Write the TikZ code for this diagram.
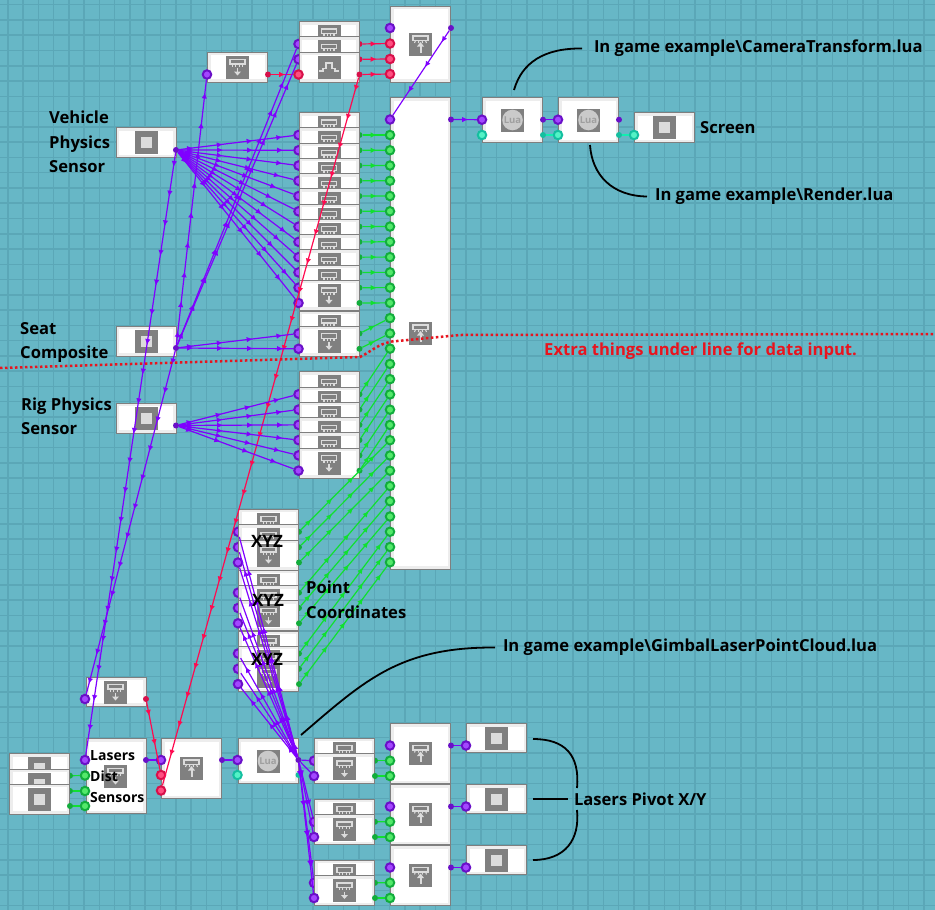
\documentclass[tikz,border=0pt]{standalone}
\usepackage{fontspec}
\setmainfont{Open Sans}
\usetikzlibrary{arrows.meta,decorations.markings}
\definecolor{bgteal}{HTML}{67B7C6}
\definecolor{gridteal}{HTML}{5BA7B7}
\definecolor{chipline}{HTML}{7F7F7F}
\definecolor{chipedge}{HTML}{EDEDED}
\definecolor{icongrey}{HTML}{808080}
\definecolor{iconlight}{HTML}{DCDCDC}
\definecolor{vio}{HTML}{7F00FF}
\definecolor{viodark}{HTML}{6A10C8}
\definecolor{gre}{HTML}{10E030}
\definecolor{gredark}{HTML}{12AD3C}
\definecolor{rd}{HTML}{FF0A50}
\definecolor{rddark}{HTML}{D8104A}
\definecolor{tea}{HTML}{10EFB0}
\definecolor{teadark}{HTML}{14BFA0}
\definecolor{noted}{HTML}{E8141E}
\newcommand{\rowchip}[6]{%
  \node[chipbox,minimum height=30pt] (#1) at (#2,#3) {};
  \pic (#1) at (#2+30,#3+15) {#4};
  \node[bigport=#5] (#1in) at (#2-0.5,#3+22.5) {};
  \node[smallport=#6] (#1out) at (#2+60.5,#3+22.5) {};
}
\tikzset{
  chipbox/.style={draw=chipline,line width=1pt,fill=chipedge,anchor=north west,
    inner sep=0pt,outer sep=0pt,minimum width=60pt,
    path picture={\fill[white] ([shift={(3,3)}]path picture bounding box.north west)
      rectangle ([shift={(-3,-3)}]path picture bounding box.south east);}},
  bigport/.style={circle,inner sep=0pt,minimum size=8.5pt,line width=2pt,draw=#1dark,fill=#1!72!white},
  smallport/.style={circle,inner sep=0pt,minimum size=6pt,fill=#1dark},
  wire/.style={draw=#1,line width=1.2pt,postaction={decorate,decoration={markings,
    mark=between positions 14pt and -6pt step 30pt with {\arrow[color=#1]{Latex[length=6pt,width=5.5pt]}}}}},
  pinline/.style={draw=iconlight,line width=1.1pt},
  sqicon/.pic={
    \fill[icongrey] (-11.5,-11.5) rectangle (11.5,11.5);
    \fill[iconlight] (-5.5,-5.5) rectangle (5.5,5.5);
  },
  readicon/.pic={
    \fill[icongrey] (-11.5,-11.5) rectangle (11.5,11.5);
    \draw[pinline] (-7.5,-7.5) rectangle (7.5,-3);
    \foreach \p in {-5,-1.7,1.7,5} \draw[pinline] (\p,-3) -- (\p,-0.5);
    \draw[draw=iconlight,line width=1.8pt] (0,1) -- (0,5);
    \fill[iconlight] (-3.5,4.5) -- (3.5,4.5) -- (0,8.5) -- cycle;
  },
  writeicon/.pic={
    \fill[icongrey] (-11.5,-11.5) rectangle (11.5,11.5);
    \draw[pinline] (-7.5,-8) rectangle (7.5,-3.5);
    \foreach \p in {-5,-1.7,1.7,5} \draw[pinline] (\p,-3.5) -- (\p*1.2,-1);
    \fill[iconlight] (-3.5,2.5) -- (3.5,2.5) -- (0,-2) -- cycle;
    \draw[draw=iconlight,line width=2pt] (0,2) -- (0,8.5);
  },
  luaicon/.pic={
    \fill[icongrey] (-11.5,-11.5) rectangle (11.5,11.5);
    \fill[iconlight!92!black] (0,0) circle (10.3);
    \node[text=gray!75,inner sep=0pt,font=\bfseries\fontsize{9.5}{10}\selectfont] (-label) at (0,0) {Lua};
  },
  pulseicon/.pic={
    \fill[icongrey] (-11.5,-11.5) rectangle (11.5,11.5);
    \draw[draw=iconlight,line width=1.8pt] (-10,4) -- (-6,4) -- (-6,1.5) -- (-3,1.5) -- (-3,-4)
      -- (3,-4) -- (3,1.5) -- (6,1.5) -- (6,4) -- (10,4);
  },
  lbl/.style={inner sep=0pt,align=left,anchor=west,font=\bfseries\fontsize{16.6}{24.5}\selectfont},
  note/.style={draw=black,line width=1.8pt},
}
\begin{document}
\begin{tikzpicture}[x=1pt,y=-1pt]
\useasboundingbox (0,0) rectangle (935,910);
\fill[bgteal] (0,0) rectangle (935,910);
\foreach \i in {0,...,60} \draw[gridteal,line width=1.5pt] ({7.8+15.27*\i},0) -- ++(0,910);
\foreach \i in {0,...,59} \draw[gridteal,line width=1.5pt] (0,{4.7+15.27*\i}) -- ++(935,0);
% top memory and big memory
\node[chipbox,minimum height=76pt] (memtop) at (390.5,6) {};
\pic at (420.5,44) {writeicon};
\node[bigport=vio] (memtopin) at (390,28) {};
\foreach \i/\y in {1/43.5,2/59,3/74} \node[bigport=rd] (memred\i) at (390,\y) {};
\node[smallport=vio] (memtopout) at (451,28) {};
\node[chipbox,minimum height=471.5pt] (membig) at (390.5,97.5) {};
\pic at (420.5,333) {writeicon};
\node[bigport=vio] (membigin) at (390,119.5) {};
\node[smallport=vio] (membigout) at (451,119.5) {};
\foreach \i [evaluate=\i as \y using 135+15.26*\i-15.26] in {1,...,29}
  \node[bigport=gre] (big\i) at (390,\y) {};
% lua chain
\node[chipbox,minimum height=45pt] (luacam) at (482.5,97.5) {};
\pic (luacam) at (512.5,120) {luaicon};
\node[bigport=vio] (luacamin) at (482,119.7) {};
\node[bigport=tea] (luacamtea) at (482,135) {};
\node[smallport=vio] (luacamout) at (543,119.7) {};
\node[smallport=tea] (luacamteo) at (543,135) {};
\node[chipbox,minimum height=45pt] (luaren) at (558.5,97.5) {};
\pic (luaren) at (588.5,120) {luaicon};
\node[bigport=vio] (luarenin) at (558,119.7) {};
\node[bigport=tea] (luarentea) at (558,135) {};
\node[smallport=vio] (luarenout) at (619,119.7) {};
\node[smallport=tea] (luarenteo) at (619,135) {};
\node[chipbox,minimum height=30pt] (screen) at (634.5,112.5) {};
\pic at (664.5,127.5) {sqicon};
\node[bigport=tea] (screenin) at (634,135) {};
% sensors
\node[chipbox,minimum height=30pt] (vehsensor) at (116,127.5) {};
\pic at (146,142.5) {sqicon};
\node[smallport=vio] (vehout) at (176,150) {};
\node[chipbox,minimum height=30pt] (seatsensor) at (116,326) {};
\pic at (146,341) {sqicon};
\node[smallport=vio] (seatout) at (176,348) {};
\node[chipbox,minimum height=30pt] (rigsensor) at (116,403) {};
\pic at (146,418) {sqicon};
\node[smallport=vio] (rigout) at (176,425.5) {};
\node[chipbox,minimum height=30pt] (gate) at (207.5,52) {};
\pic at (237.5,67) {readicon};
\node[bigport=vio] (gatein) at (207,74.5) {};
\node[smallport=rd] (gateout) at (268,74.5) {};
% stacks of read chips
\rowchip{tapa}{299}{21.5}{readicon}{vio}{rd}
\rowchip{tapb}{299}{36.8}{readicon}{vio}{rd}
\rowchip{pulse}{299}{52}{pulseicon}{rd}{rd}
\foreach \i [evaluate=\i as \t using 112.5+15.27*\i-15.27] in {1,...,12}
  {\rowchip{veh\i}{299}{\t}{readicon}{vio}{gre}}
\foreach \i/\t in {1/311,2/326.3} {\rowchip{seat\i}{299}{\t}{readicon}{vio}{gre}}
\foreach \i [evaluate=\i as \t using 371.8+15.27*\i-15.27] in {1,...,6}
  {\rowchip{rig\i}{299}{\t}{readicon}{vio}{gre}}
\foreach \i/\t in {1/509.3,2/524.7,3/540,4/570.2,5/585.5,6/600.8,7/631,8/646.3,9/661.6}
  {\rowchip{xyz\i}{238.5}{\t}{readicon}{vio}{gre}}
% lasers corner
\node[chipbox,minimum height=29pt] (lasread) at (86,677) {};
\pic at (115.5,692) {readicon};
\node[bigport=vio] (lasreadin) at (85,699) {};
\node[smallport=rd] (lasreadout) at (146,699) {};
\foreach \i/\t in {1/753.7,2/769,3/784}{
  \node[chipbox,minimum height=30pt] (dist\i) at (9.5,\t) {};
  \pic at (39.5,\t+15) {sqicon};
  \node[smallport=gre] (dist\i out) at (70,\t+22) {};
}
\node[chipbox,minimum height=75pt] (lasers) at (86,738.5) {};
\pic at (115.5,776) {readicon};
\node[bigport=vio] (lasersin) at (85,760) {};
\foreach \i/\y in {1/775.5,2/791,3/806} \node[bigport=gre] (lasersgre\i) at (85,\y) {};
\node[smallport=vio] (lasersout) at (146,760) {};
\node[chipbox,minimum height=60pt] (pack) at (161.5,738.5) {};
\pic at (191.5,768) {writeicon};
\node[bigport=vio] (packin) at (161,760) {};
\node[bigport=rd] (packreda) at (161,775) {};
\node[bigport=rd] (packredb) at (161,790.5) {};
\node[smallport=vio] (packout) at (222,760) {};
\node[chipbox,minimum height=45pt] (luagimbal) at (238,738.5) {};
\pic (luagimbal) at (268,761) {luaicon};
\node[bigport=vio] (luagimbalin) at (237.5,760) {};
\node[bigport=tea] (luagimbaltea) at (237.5,775) {};
\node[smallport=vio] (luagimbalout) at (298.5,760) {};
\node[smallport=tea] (luagimbalteo) at (298.5,775) {};
% pivots
\foreach \i/\t in {1/738.2,2/753.5,3/799.3,4/814.5,5/860.3,6/875.5}
  {\rowchip{piv\i}{314.5}{\t}{readicon}{vio}{gre}}
\foreach \n/\t in {a/723.5,b/784.5,c/845.5}{
  \node[chipbox,minimum height=60pt] (pack\n) at (390.5,\t) {};
  \pic at (420.5,\t+30) {writeicon};
  \node[bigport=vio] (pack\n in) at (390,\t+22) {};
  \node[bigport=gre] (pack\n g) at (390,\t+37.2) {};
  \node[bigport=gre] (pack\n h) at (390,\t+52.5) {};
  \node[smallport=vio] (pack\n out) at (451,\t+22) {};
  \node[chipbox,minimum height=29pt] (pivot\n) at (466.5,\t) {};
  \pic at (496.5,\t+14.5) {sqicon};
  \node[bigport=vio] (pivot\n in) at (466,\t+22) {};
  \draw[wire=vio] (pack\n out) -- (pivot\n in);
}
% wires
\draw[wire=vio] (memtopout) -- (membigin);
\draw[wire=vio] (membigout) -- (luacamin);
\draw[wire=vio] (luacamout) -- (luarenin);
\draw[wire=tea] (luacamteo) -- (luarentea);
\draw[wire=tea] (luarenteo) -- (screenin);
\draw[wire=rd] (gateout) -- (pulsein);
\draw[wire=rd] (tapaout) -- (memred1);
\draw[wire=rd] (tapbout) -- (memred2);
\draw[wire=rd] (pulseout) -- (memred3);
\draw[wire=rd] (pulseout) -- (packredb);
\draw[wire=rd] (lasreadout) -- (packreda);
\draw[wire=vio] (lasersout) -- (packin);
\draw[wire=vio] (packout) -- (luagimbalin);
\draw[wire=vio] (seatout) -- (gatein);
\draw[wire=vio] (seatout) -- (lasreadin);
\draw[wire=vio] (seatout) -- (tapain);
\draw[wire=vio] (seatout) -- (tapbin);
\draw[wire=vio] (vehout) -- (lasersin);
\foreach \i in {1,...,12} {
  \draw[wire=vio] (vehout) -- (veh\i in);
  \draw[wire=gre] (veh\i out) -- (big\i);
}
\foreach \i/\j in {1/13,2/14} {
  \draw[wire=vio] (seatout) -- (seat\i in);
  \draw[wire=gre] (seat\i out) -- (big\j);
}
\foreach \i/\j in {1/15,2/16,3/17,4/18,5/19,6/20} {
  \draw[wire=vio] (rigout) -- (rig\i in);
  \draw[wire=gre] (rig\i out) -- (big\j);
}
\foreach \i/\j in {1/21,2/22,3/23,4/24,5/25,6/26,7/27,8/28,9/29} {
  \draw[wire=vio] (luagimbalout) -- (xyz\i in);
  \draw[wire=gre] (xyz\i out) -- (big\j);
}
\foreach \i in {1,...,6} \draw[wire=vio] (luagimbalout) -- (piv\i in);
\foreach \i/\p in {1/packag,2/packah,3/packbg,4/packbh,5/packcg,6/packch}
  \draw[wire=gre] (piv\i out) -- (\p);
\foreach \i/\p in {1/lasersgre1,2/lasersgre2,3/lasersgre3}
  \draw[wire=gre] (dist\i out) -- (\p);
% data line
\draw[noted,line width=2.5pt,dash pattern=on 2.5pt off 2.5pt]
  (0,368) -- (360,357) .. controls (372,351) and (378,344) .. (392,341.5) -- (460,335) -- (935,334);
% labels
\node[lbl] (vehlabel) at (49,142) {Vehicle\\Physics\\Sensor};
\node[lbl] (seatlabel) at (20,342.5) {Seat\\Composite};
\node[lbl] (riglabel) at (21,416.5) {Rig Physics\\Sensor};
\node[lbl] (screenlabel) at (700,128) {Screen};
\node[lbl] (pointlabel) at (306,600) {Point\\Coordinates};
\node[lbl,font=\bfseries\fontsize{14}{21}\selectfont] (laserslabel) at (90,777) {Lasers\\Dist\\Sensors};
\node[lbl,text=noted] (extralabel) at (544,351.5) {Extra things under line for data input.};
\foreach \n/\x/\y in {a/267/541,b/268/600,c/267/659}
  \node[inner sep=0pt,font=\bfseries\fontsize{17}{20}\selectfont] (xyztext\n) at (\x,\y) {XYZ};
\node[lbl,outer sep=12pt] (camlabel) at (582,48.5) {In game example\textbackslash CameraTransform.lua};
\node[lbl,outer sep=8pt] (renlabel) at (647,196.5) {In game example\textbackslash Render.lua};
\node[lbl,outer sep=8pt] (gimballabel) at (495,647.5) {In game example\textbackslash GimbalLaserPointCloud.lua};
\node[lbl,outer sep=6pt] (pivotlabel) at (568,799) {Lasers Pivot X/Y};
\coordinate (camtail) at (514,90);
\coordinate (rentail) at (590,145);
\coordinate (gimbaltail) at (301,735);
\coordinate (pivottaila) at (533,739);
\coordinate (pivottailb) at (533,799);
\coordinate (pivottailc) at (533,860);
\coordinate (pivotup) at (577,788);
\coordinate (pivotdown) at (577,810);
\draw[note] (camtail) .. controls (522,62) and (545,48) .. (camlabel.west);
\draw[note] (rentail) .. controls (592,175) and (612,196) .. (renlabel.west);
\draw[note] (gimbaltail) .. controls (365,680) and (400,647) .. (gimballabel.west);
\draw[note] (pivottailb) -- (pivotlabel.west);
\draw[note] (pivottaila) .. controls (565,739) and (580,755) .. (pivotup);
\draw[note] (pivottailc) .. controls (565,860) and (580,840) .. (pivotdown);
\end{tikzpicture}
\end{document}
